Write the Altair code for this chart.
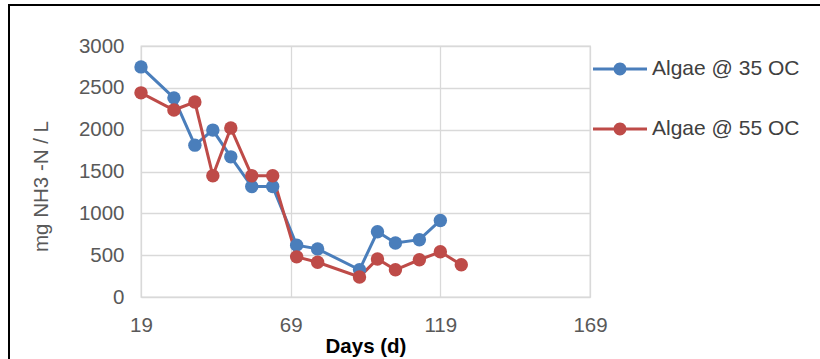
import altair as alt
import pandas as pd

days = [19, 30, 37, 43, 49, 56, 63, 71, 78, 92, 98, 104, 112, 119, 126]
algae_35 = [2750, 2380, 1815, 1995, 1675, 1320, 1320, 620, 575, 325, 780, 645, 685, 915]
algae_55 = [2440, 2235, 2330, 1450, 2020, 1450, 1450, 480, 415, 240, 455, 325, 445, 540, 385]
series_names = ["Algae @ 35 OC", "Algae @ 55 OC"]
colors = ["#4A7EBB", "#BE4B48"]
x_ticks = [19, 69, 119, 169]

rows = []
for d, v in zip(days, algae_35):
    rows.append({"day": d, "value": v, "series": series_names[0]})
for d, v in zip(days, algae_55):
    rows.append({"day": d, "value": v, "series": series_names[1]})
df = pd.DataFrame(rows)

legend_path = ("M-1,-0.06H1V0.06H-1Z "
               "M-0.24,0A0.24,0.24 0 1,1 0.24,0A0.24,0.24 0 1,1 -0.24,0Z")

FS = 20.5

color = alt.Color(
    "series:N",
    scale=alt.Scale(domain=series_names, range=colors),
    legend=alt.Legend(
        title=None, orient="none", legendX=452, legendY=-4,
        symbolType=legend_path, symbolSize=2916, symbolStrokeWidth=0,
        symbolOpacity=1, rowPadding=23, labelFontSize=21,
        labelFont="Liberation Sans", labelColor="#404040", labelOffset=5,
        labelLimit=300,
    ),
)

x = alt.X("day:Q", scale=alt.Scale(domain=[19, 169], nice=False, zero=False),
          axis=alt.Axis(values=x_ticks, format="d", title="Days (d)",
                        titleFontWeight="bold", titleColor="#000000",
                        titleFontSize=FS, titlePadding=1, labelPadding=18,
                        labelFontSize=FS, labelFlush=False))
y = alt.Y("value:Q", scale=alt.Scale(domain=[0, 3000], nice=False),
          axis=alt.Axis(values=list(range(0, 3001, 500)), format="d",
                        title="mg NH3 -N / L", titleFontWeight="normal",
                        titleColor="#595959", titleFontSize=FS, titlePadding=27,
                        titleY=140, labelPadding=17, labelFontSize=FS,
                        labelFlush=False))

lines = alt.Chart(df).mark_line(strokeWidth=3).encode(x=x, y=y, color=color)
points = alt.Chart(df).mark_point(filled=True, size=180, opacity=1).encode(
    x="day:Q", y="value:Q", color=alt.Color("series:N", legend=None,
                                            scale=alt.Scale(domain=series_names, range=colors)))

frame_top = alt.Chart(df).mark_rule(color="#000000", strokeWidth=2).encode(
    x=alt.value(-132), x2=alt.value(690), y=alt.value(-41))
frame_left = alt.Chart(df).mark_rule(color="#000000", strokeWidth=2).encode(
    x=alt.value(-132), y=alt.value(-42), y2=alt.value(330))

chart = alt.layer(lines, points, frame_top, frame_left).properties(
    width=449, height=251,
    autosize=alt.AutoSizeParams(type="none"),
    padding={"left": 141, "top": 46, "right": 230, "bottom": 62},
    background="#ffffff",
).configure_view(stroke="#D9D9D9", strokeWidth=1.3).configure_axis(
    grid=True, gridColor="#D9D9D9", gridWidth=1.3, domain=False, ticks=False,
    labelColor="#595959", labelFont="Liberation Sans", titleFont="Liberation Sans",
)

chart.save("out.html", embed_options={"renderer": "svg", "actions": False})
